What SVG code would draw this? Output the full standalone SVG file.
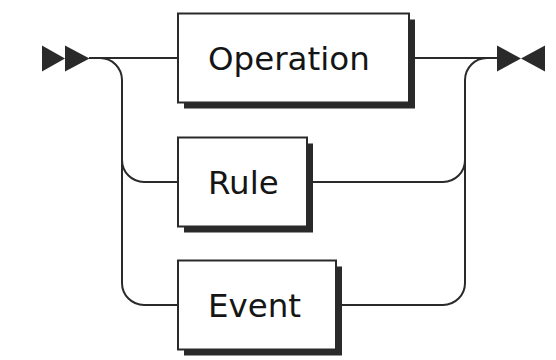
<svg xmlns="http://www.w3.org/2000/svg" width="556" height="360" viewBox="0 0 556 360">
<style>
.line{fill:none;stroke:#2a2a2a;stroke-width:2}
.box{fill:#fff;stroke:#2a2a2a;stroke-width:2}
.shadow{fill:#2a2a2a}
.arrow{fill:#2a2a2a}
.label{font-family:"DejaVu Sans",sans-serif;font-size:32.5px;fill:#151515}
</style>
<rect width="556" height="360" fill="#fff"/>
<g id="connectors">
<path class="line" d="M89 58 H178"/>
<path class="line" d="M100 58 A22 22 0 0 1 122 80 V283 A22 22 0 0 0 144 305 H178"/>
<path class="line" d="M122 160 A22 22 0 0 0 144 182 H178"/>
<path class="line" d="M408 58 H497"/>
<path class="line" d="M306 182 H443 A22 22 0 0 0 465 160 V80 A22 22 0 0 1 487 58"/>
<path class="line" d="M335 305 H443 A22 22 0 0 0 465 283 V160"/>
</g>
<g id="start">
<polygon class="arrow" points="42,45.5 42,71.5 65,58.5"/>
<polygon class="arrow" points="65,45.5 65,71.5 89.5,58.5"/>
</g>
<g id="end">
<polygon class="arrow" points="497,45.5 497,71.5 521,58.5"/>
<polygon class="arrow" points="545,45.5 545,71.5 521,58.5"/>
</g>
<g id="operation">
<rect class="shadow" x="184" y="19.5" width="231" height="89"/>
<rect class="box" x="178" y="13.5" width="231" height="89"/>
<text class="label" x="208" y="70">Operation</text>
</g>
<g id="rule">
<rect class="shadow" x="184" y="143.5" width="129" height="89"/>
<rect class="box" x="178" y="137.5" width="129" height="89"/>
<text class="label" x="208" y="193.5">Rule</text>
</g>
<g id="event">
<rect class="shadow" x="184" y="266.5" width="158" height="89"/>
<rect class="box" x="178" y="260.5" width="158" height="89"/>
<text class="label" x="208" y="316.5">Event</text>
</g>
</svg>
